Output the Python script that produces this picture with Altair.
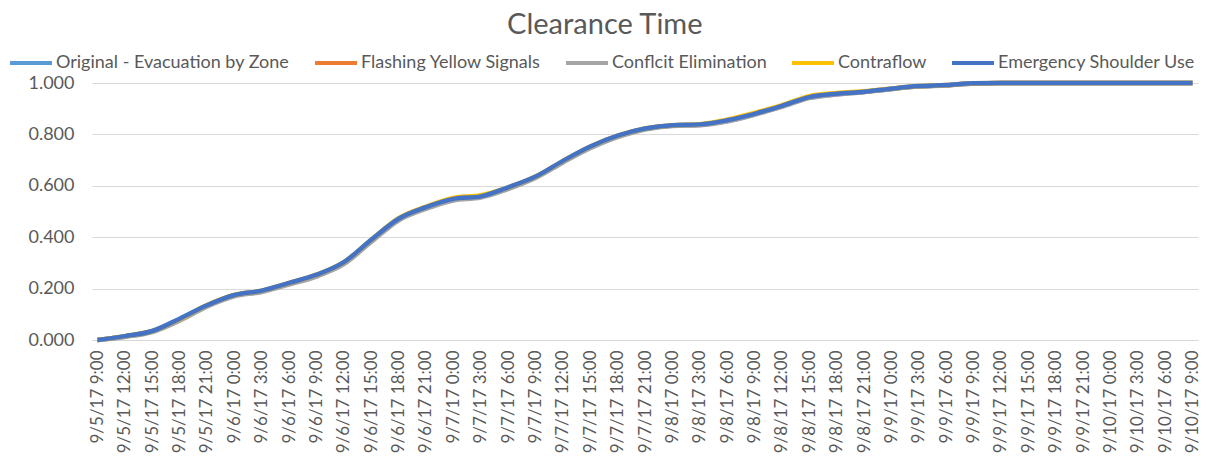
import altair as alt
import pandas as pd

labels = [
    "9/5/17 9:00", "9/5/17 12:00", "9/5/17 15:00", "9/5/17 18:00", "9/5/17 21:00",
    "9/6/17 0:00", "9/6/17 3:00", "9/6/17 6:00", "9/6/17 9:00", "9/6/17 12:00",
    "9/6/17 15:00", "9/6/17 18:00", "9/6/17 21:00", "9/7/17 0:00", "9/7/17 3:00",
    "9/7/17 6:00", "9/7/17 9:00", "9/7/17 12:00", "9/7/17 15:00", "9/7/17 18:00",
    "9/7/17 21:00", "9/8/17 0:00", "9/8/17 3:00", "9/8/17 6:00", "9/8/17 9:00",
    "9/8/17 12:00", "9/8/17 15:00", "9/8/17 18:00", "9/8/17 21:00", "9/9/17 0:00",
    "9/9/17 3:00", "9/9/17 6:00", "9/9/17 9:00", "9/9/17 12:00", "9/9/17 15:00",
    "9/9/17 18:00", "9/9/17 21:00", "9/10/17 0:00", "9/10/17 3:00", "9/10/17 6:00",
    "9/10/17 9:00",
]

series_names = [
    "Original - Evacuation by Zone",
    "Flashing Yellow Signals",
    "Conflcit Elimination",
    "Contraflow",
    "Emergency Shoulder Use",
]
series_colors = ["#5B9BD5", "#ED7D31", "#A5A5A5", "#FFC000", "#4472C4"]

original = [0.000, 0.014, 0.033, 0.079, 0.133, 0.173, 0.190, 0.219, 0.251, 0.300,
            0.386, 0.470, 0.514, 0.546, 0.557, 0.590, 0.633, 0.694, 0.750, 0.792,
            0.821, 0.834, 0.837, 0.852, 0.878, 0.909, 0.943, 0.956, 0.965, 0.977,
            0.987, 0.991, 0.998, 1.000, 1.000, 1.000, 1.000, 1.000, 1.000, 1.000, 1.000]
flashing = [0.000, 0.014, 0.034, 0.079, 0.134, 0.174, 0.191, 0.220, 0.252, 0.301,
            0.387, 0.471, 0.515, 0.547, 0.558, 0.591, 0.634, 0.695, 0.751, 0.793,
            0.822, 0.835, 0.838, 0.853, 0.879, 0.910, 0.944, 0.957, 0.966, 0.978,
            0.987, 0.991, 0.998, 1.000, 1.000, 1.000, 1.000, 1.000, 1.000, 1.000, 1.000]
conflict = [0.000, 0.012, 0.031, 0.075, 0.130, 0.170, 0.187, 0.216, 0.247, 0.295,
            0.381, 0.465, 0.510, 0.543, 0.554, 0.587, 0.630, 0.690, 0.746, 0.789,
            0.819, 0.833, 0.836, 0.850, 0.876, 0.907, 0.941, 0.955, 0.964, 0.976,
            0.986, 0.990, 0.998, 1.000, 1.000, 1.000, 1.000, 1.000, 1.000, 1.000, 1.000]
contraflow = [0.000, 0.015, 0.035, 0.081, 0.136, 0.175, 0.192, 0.222, 0.254, 0.303,
              0.390, 0.474, 0.519, 0.553, 0.563, 0.594, 0.636, 0.697, 0.753, 0.795,
              0.823, 0.836, 0.840, 0.857, 0.884, 0.914, 0.949, 0.961, 0.968, 0.978,
              0.988, 0.992, 0.999, 1.000, 1.000, 1.000, 1.000, 1.000, 1.000, 1.000, 1.000]
shoulder = [0.000, 0.015, 0.035, 0.083, 0.135, 0.175, 0.192, 0.222, 0.254, 0.303,
            0.390, 0.472, 0.517, 0.549, 0.559, 0.594, 0.636, 0.697, 0.753, 0.795,
            0.823, 0.836, 0.839, 0.855, 0.880, 0.911, 0.945, 0.958, 0.966, 0.978,
            0.988, 0.992, 0.999, 1.000, 1.000, 1.000, 1.000, 1.000, 1.000, 1.000, 1.000]

all_values = [original, flashing, conflict, contraflow, shoulder]

rows = []
for name, vals in zip(series_names, all_values):
    for lab, v in zip(labels, vals):
        rows.append({"time": lab, "value": v, "series": name})
df = pd.DataFrame(rows)

text_color = "#595959"
grid_color = "#D9D9D9"

chart = alt.Chart(df).mark_line(strokeWidth=4.5, interpolate="monotone").encode(
    x=alt.X(
        "time:O",
        sort=labels,
        scale=alt.Scale(type="point", padding=0.2),
        axis=alt.Axis(
            title=None,
            labelAngle=270,
            labelPadding=10,
            ticks=False,
            domainColor=grid_color,
            domainWidth=1,
            labelFontSize=17,
            labelColor=text_color,
            grid=False,
        ),
    ),
    y=alt.Y(
        "value:Q",
        scale=alt.Scale(domain=[0, 1]),
        axis=alt.Axis(
            title=None,
            values=[0, 0.2, 0.4, 0.6, 0.8, 1.0],
            format=".3f",
            domain=False,
            ticks=False,
            labelPadding=18,
            gridColor=grid_color,
            labelFontSize=18,
            labelColor=text_color,
        ),
    ),
    color=alt.Color(
        "series:N",
        sort=series_names,
        scale=alt.Scale(domain=series_names, range=series_colors),
        legend=alt.Legend(
            title=None,
            orient="none",
            legendX=-84,
            legendY=-43,
            direction="horizontal",
            symbolType="stroke",
            symbolSize=1764,
            symbolStrokeWidth=4,
            labelFontSize=18,
            labelColor=text_color,
            labelOffset=2,
            labelLimit=0,
            columnPadding=17,
        ),
    ),
).properties(
    width=1106,
    height=257,
    title=alt.TitleParams(
        "Clearance Time",
        fontSize=29,
        fontWeight="normal",
        color=text_color,
        anchor="middle",
        frame="bounds",
        offset=0,
    ),
    padding={"left": 0, "top": 3, "right": 0, "bottom": 0},
).configure(
    font="Lato",
).configure_view(
    stroke=None,
)

chart.save("out.html", embed_options={"renderer": "svg", "actions": False})
